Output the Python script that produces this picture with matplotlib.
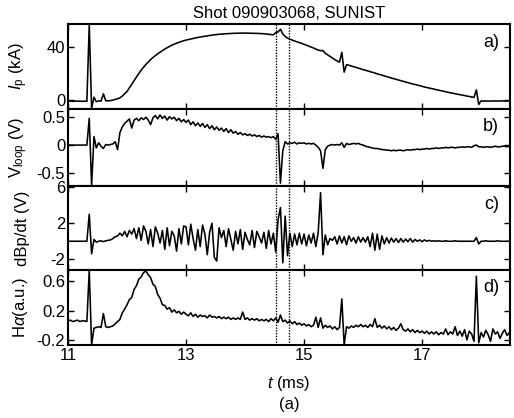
import numpy as np
import matplotlib
matplotlib.use('Agg')
import matplotlib.pyplot as plt

plt.rcParams['font.family'] = ['Liberation Sans', 'DejaVu Sans']
plt.rcParams['mathtext.fontset'] = 'custom'
plt.rcParams['mathtext.it'] = 'Liberation Sans:italic'
plt.rcParams['mathtext.rm'] = 'Liberation Sans'

# sampling: 11.00 ms, one value every 0.04 ms (each row = 1 ms)
t_start = 11.0
dt = 0.04

ip_vals = [
    -1.0, -1.0, -1.2, -1.0, -1.1, -1.0, -1.2, -1.0, -1.1, 57.0, -6.5, 2.0, -1.5, -0.8, -1.0, 4.5, -0.8, -0.8, -0.6, -0.3, 0.3, 0.8, 1.5, 2.8, 4.5,
    6.3, 9.0, 11.8, 14.5, 17.3, 19.9, 22.5, 24.7, 26.8, 28.7, 30.5, 32.1, 33.5, 34.9, 36.1, 37.3, 38.5, 39.5, 40.5, 41.4, 42.2, 42.9, 43.6, 44.2, 44.8,
    45.3, 45.7, 46.1, 46.5, 46.9, 47.3, 47.6, 47.9, 48.2, 48.5, 48.8, 49.0, 49.3, 49.5, 49.7, 49.8, 50.0, 50.1, 50.2, 50.3, 50.4, 50.5, 50.5, 50.6, 50.6,
    50.6, 50.6, 50.5, 50.5, 50.4, 50.4, 50.3, 50.2, 50.1, 49.9, 49.7, 49.5, 49.3, 51.0, 51.5, 53.5, 50.0, 48.0, 46.8, 46.0, 45.3, 44.6, 44.0, 43.4, 42.8,
    42.1, 41.4, 40.7, 40.0, 39.3, 38.5, 37.7, 37.3, 37.3, 35.3, 34.1, 32.9, 31.7, 30.5, 29.5, 28.5, 36.0, 21.0, 26.7, 26.2, 25.6, 25.1, 24.6, 24.0, 23.5,
    22.9, 22.4, 21.9, 21.3, 20.8, 20.3, 19.7, 19.2, 18.7, 18.1, 17.6, 17.1, 16.5, 16.0, 15.5, 15.0, 14.5, 14.0, 13.5, 13.0, 12.5, 12.0, 11.6, 11.1, 10.7,
    10.2, 9.7, 9.3, 8.9, 8.5, 8.1, 7.7, 7.3, 6.9, 6.5, 6.1, 5.7, 5.3, 5.0, 4.6, 4.2, 3.9, 3.5, 3.2, 2.8, 2.5, 2.1, 1.8, 7.5, -3.5,
    -0.8, -1.0, -0.9, -1.0, -0.9, -1.0, -0.8, -1.0, -0.9, -0.8, -1.0, -0.9, -0.9,
]

vloop_vals = [
    0.0, 0.0, 0.0, 0.0, 0.0, 0.0, 0.0, 0.0, 0.0, 0.47, -0.71, 0.15, -0.05, 0.04, -0.02, -0.06, 0.01, 0.0, 0.01, 0.02, 0.06, -0.08, 0.22, 0.32, 0.38,
    0.42, 0.46, 0.30, 0.44, 0.47, 0.43, 0.48, 0.45, 0.49, 0.44, 0.36, 0.48, 0.52, 0.46, 0.53, 0.47, 0.51, 0.44, 0.50, 0.46, 0.49, 0.43, 0.47, 0.41, 0.45,
    0.40, 0.44, 0.36, 0.41, 0.34, 0.39, 0.33, 0.38, 0.31, 0.36, 0.29, 0.34, 0.27, 0.32, 0.26, 0.30, 0.24, 0.29, 0.22, 0.27, 0.21, 0.24, 0.19, 0.22, 0.18,
    0.20, 0.17, 0.19, 0.16, 0.18, 0.15, 0.17, 0.14, 0.16, 0.14, 0.15, 0.13, 0.15, 0.10, 0.20, -0.67, -0.10, 0.06, 0.02, 0.04, 0.03, 0.05, 0.02, 0.04, 0.03,
    0.04, 0.02, 0.03, 0.02, 0.03, 0.00, -0.04, -0.10, -0.41, -0.08, -0.02, 0.00, 0.01, 0.00, 0.01, 0.00, 0.04, -0.04, 0.03, 0.01, 0.02, 0.03, 0.02, 0.03, 0.01,
    0.00, -0.02, -0.03, -0.04, -0.05, -0.06, -0.06, -0.07, -0.08, -0.08, -0.09, -0.09, -0.10, -0.09, -0.10, -0.09, -0.09, -0.10, -0.09, -0.08, -0.09, -0.08, -0.08, -0.07, -0.08,
    -0.07, -0.07, -0.06, -0.07, -0.06, -0.06, -0.05, -0.06, -0.05, -0.05, -0.04, -0.05, -0.04, -0.04, -0.05, -0.04, -0.04, -0.03, -0.04, -0.03, -0.03, -0.04, -0.01, 0.00, -0.03,
    -0.03, -0.04, -0.03, -0.03, -0.04, -0.03, -0.02, -0.03, -0.03, -0.02, -0.02, -0.03, -0.02,
]

dbp_vals = [
    0.0, 0.0, 0.0, 0.0, 0.0, 0.0, 0.0, 0.0, 0.0, 3.0, -1.4, 0.2, -0.1, 0.0, 0.05, -0.05, 0.05, 0.1, 0.15, 0.3, 0.5, 0.6, 0.9, 0.6, 1.1,
    0.5, 1.2, 0.8, 1.4, 0.3, 1.5, 0.1, 1.7, 1.1, -0.3, 1.3, -0.6, 1.6, 0.9, -0.2, 1.2, -0.9, 1.5, -0.5, 1.1, 0.6, -1.1, 1.4, -0.3, 1.7,
    1.6, -0.4, 1.9, 0.3, -1.0, 1.3, -0.6, 1.8, 0.8, -1.5, 1.0, 2.0, -1.8, -2.2, 1.5, 0.4, 1.2, -0.6, 1.4, 0.2, -1.0, 1.1, -0.3, 1.3, -0.9,
    1.0, 0.2, -0.4, 1.2, -0.7, 1.1, 0.5, -0.2, 1.0, -0.8, 1.2, -0.3, 0.9, -1.2, 2.4, 3.75, -2.4, 2.8, -1.6, 0.9, -0.6, 0.8, -0.4, 0.9, -0.3,
    0.8, -0.5, 0.7, -0.2, 0.9, -0.6, 1.0, 5.4, -1.5, 0.7, -0.4, 0.3, 0.1, 0.5, -0.3, 0.6, -0.2, 0.5, -0.4, 0.6, 0.0, 0.4, -0.2, 0.5, -0.1,
    0.4, -0.1, 0.5, -0.6, 0.9, -1.0, 0.8, -0.9, 0.6, -0.3, 0.4, -0.2, 0.35, -0.1, 0.3, -0.15, 0.3, -0.1, 0.25, -0.05, 0.3, -0.1, 0.2, 0.0, 0.15,
    -0.05, 0.15, 0.0, 0.1, 0.0, 0.05, 0.0, 0.05, 0.0, 0.0, 0.05, 0.0, 0.0, 0.0, 0.05, 0.0, 0.0, 0.0, 0.0, 0.0, 0.0, 0.0, 0.0, 0.4, -0.3,
    0.0, 0.0, 0.05, 0.0, 0.0, 0.0, 0.0, 0.05, 0.0, 0.0, 0.0, 0.0, 0.0,
]

halpha_vals = [
    0.06, 0.07, 0.05, 0.06, 0.07, 0.05, 0.06, 0.06, 0.05, 0.75, -0.27, -0.04, -0.03, -0.02, -0.03, 0.16, -0.02, -0.03, -0.02, -0.01, 0.02, 0.05, 0.08, 0.17, 0.22,
    0.28, 0.35, 0.38, 0.49, 0.54, 0.63, 0.66, 0.72, 0.74, 0.69, 0.65, 0.56, 0.53, 0.42, 0.37, 0.28, 0.27, 0.22, 0.24, 0.18, 0.21, 0.17, 0.19, 0.15, 0.18,
    0.15, 0.13, 0.17, 0.12, 0.15, 0.11, 0.14, 0.12, 0.13, 0.10, 0.14, 0.11, 0.12, 0.10, 0.12, 0.09, 0.11, 0.09, 0.11, 0.08, 0.10, 0.08, 0.10, 0.08, 0.18,
    0.08, 0.10, 0.07, 0.09, 0.07, 0.09, 0.06, 0.08, 0.06, 0.08, 0.05, 0.09, 0.06, 0.10, 0.04, 0.14, 0.05, 0.07, 0.03, 0.06, 0.02, 0.05, 0.01, 0.03, 0.00,
    0.02, -0.01, 0.01, -0.02, 0.00, 0.11, -0.03, 0.10, -0.04, 0.00, -0.03, -0.01, -0.05, -0.02, -0.06, -0.03, 0.36, -0.27, -0.02, -0.04, -0.01, -0.03, 0.00, -0.02, 0.01,
    -0.02, 0.00, -0.03, 0.01, -0.02, 0.09, -0.03, 0.00, -0.04, -0.01, -0.05, -0.02, -0.06, -0.03, -0.07, -0.04, 0.02, -0.06, -0.08, -0.05, -0.09, -0.06, -0.10, -0.07, -0.10,
    -0.08, -0.11, -0.08, -0.12, -0.09, -0.12, -0.09, -0.13, -0.10, -0.12, -0.05, -0.13, -0.09, -0.12, -0.02, -0.14, -0.08, -0.15, -0.06, -0.20, -0.08, -0.12, -0.22, 0.67, -0.24,
    -0.10, -0.16, -0.07, -0.13, -0.22, -0.05, -0.12, -0.09, -0.18, -0.11, -0.06, -0.14, -0.10,
]

# dotted markers (ms)
marker_times = [14.52, 14.75]

panels = [
    (ip_vals, r'$I_{\rm p}$ (kA)', (-7, 57.5), [0, 40], ['0', '40'], 'a)'),
    (vloop_vals, r'V$_{\rm loop}$ (V)', (-0.72, 0.635), [-0.5, 0, 0.5], ['-0.5', '0', '0.5'], 'b)'),
    (dbp_vals, 'dBp/dt (V)', (-3.2, 6.15), [-2, 2, 6], ['-2', '2', '6'], 'c)'),
    (halpha_vals, r'H$\alpha$(a.u.)', (-0.27, 0.755), [-0.2, 0.2, 0.6], ['-0.2', '0.2', '0.6'], 'd)'),
]

fig = plt.figure(figsize=(5.14, 4.18), dpi=100)
W, H = 514.0, 418.0
left, right = 68 / W, 510 / W
edges = [24, 109, 186, 270, 345]

axes = []
for i, (vals, ylab, ylim, yt, ytl, tag) in enumerate(panels):
    top = 1 - edges[i] / H
    bot = 1 - edges[i + 1] / H
    ax = fig.add_axes([left, bot, right - left, top - bot])
    t = t_start + dt * np.arange(len(vals))
    ax.plot(t, vals, color='black', lw=1.15)
    for tm in marker_times:
        ax.axvline(tm, color='black', ls=(0, (1, 1)), lw=1.0)
    ax.set_xlim(11, 18.49)
    ax.set_ylim(*ylim)
    ax.set_yticks(yt)
    ax.set_yticklabels(ytl)
    ax.set_xticks([11, 13, 15, 17])
    ax.tick_params(direction='in', length=4, width=1, top=True, right=True,
                   labelsize=12, pad=2)
    for s in ax.spines.values():
        s.set_linewidth(1.5)
    ax.set_ylabel(ylab, fontsize=12)
    ax.yaxis.set_label_coords(-0.085, 0.5)
    ax.text(0.975, 0.88, tag, transform=ax.transAxes, ha='right', va='top', fontsize=13)
    if i < 3:
        ax.tick_params(labelbottom=False)
    axes.append(ax)

axes[0].set_title('Shot 090903068, SUNIST', fontsize=12, pad=4)
axes[-1].set_xlabel('$t$ (ms)', fontsize=12, labelpad=8)
fig.text((left + right) / 2, 1 - 405 / H, '(a)', ha='center', va='center', fontsize=12)

fig.savefig('out.png', dpi=100)
